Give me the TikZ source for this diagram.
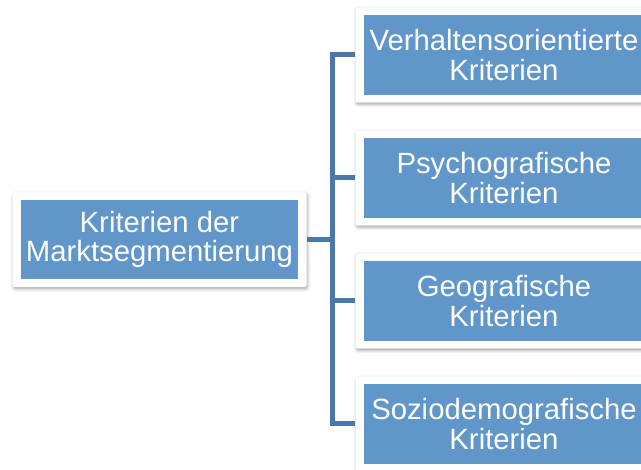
\documentclass[tikz,border=0pt]{standalone}
\usepackage{fontspec}
\setmainfont{Liberation Sans}
\usetikzlibrary{shadows.blur}

\definecolor{critblue}{HTML}{6096CA}
\definecolor{linkblue}{HTML}{4B78A8}

\tikzset{
  frame/.style={rectangle, fill=white, draw=black!8, rounded corners=2pt,
    inner sep=0pt,
    blur shadow={shadow xshift=1pt, shadow yshift=-2pt, shadow blur radius=3pt,
      shadow opacity=35}},
  crit/.style={rectangle, fill=critblue, text=white, inner sep=0pt,
    align=center, font=\fontsize{29.3}{29.5}\selectfont},
  link/.style={draw=linkblue, line width=5pt, line join=miter}
}

\begin{document}
\begin{tikzpicture}[x=1pt,y=1pt]
  \useasboundingbox (0,0) rectangle (641,470);

      \begin{scope}[every node/.style={frame, minimum width=297pt, minimum height=95pt}]
        \node[minimum width=294pt] (froot) at (159.5,230.5) {};
        \node (fv) at (504,415) {};
        \node (fp) at (504,292) {};
        \node (fg) at (504,169) {};
        \node (fs) at (504,46)  {};
      \end{scope}

      \begin{scope}[every node/.style={crit, minimum width=281pt, minimum height=80pt}]
        \node[minimum width=277pt, minimum height=79pt] (root) at (159.5,230.5)
          {Kriterien der\\Marktsegmentierung};
        \node (verh)  at (504,415) {Verhaltensorientierte\\Kriterien};
        \node (psych) at (504,292) {Psychografische\\Kriterien};
        \node (geo)   at (504,169) {Geografische\\Kriterien};
        \node (sozio) at (504,46)  {Soziodemografische\\Kriterien};
      \end{scope}

      \coordinate (bus)  at (332,230.5);
      \coordinate (busv) at (332,415);
      \coordinate (busp) at (332,292);
      \coordinate (busg) at (332,169);
      \coordinate (buss) at (332,46);

      \path[link] (froot.east) -- (bus);
      \path[link] (fv.west) -- (busv) -- (buss) -- (fs.west);
      \path[link] (busp) -- (fp.west);
      \path[link] (busg) -- (fg.west);

    \end{tikzpicture}
\end{document}
